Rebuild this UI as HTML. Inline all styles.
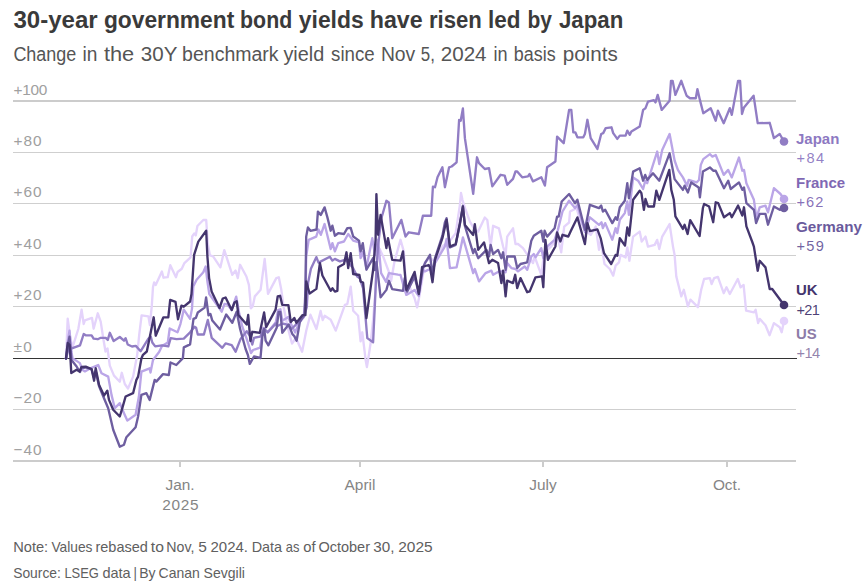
<!DOCTYPE html>
<html lang="en"><head><meta charset="utf-8"><title>30-year government bond yields have risen led by Japan</title>
<style>
html,body{margin:0;padding:0;background:#fff;}
body{width:867px;height:584px;overflow:hidden;font-family:"Liberation Sans",sans-serif;}
svg{display:block}
text{font-family:"Liberation Sans",sans-serif;}
.title{font-size:23px;font-weight:700;fill:#3a3a3a;}
.sub{font-size:20px;fill:#555555;}
.yl{font-size:15.4px;fill:#a0a0a0;}
.xl{font-size:15.4px;fill:#858585;text-anchor:middle;}
.note{font-size:14.2px;fill:#606060;}
.ln{font-size:14.4px;font-weight:700;}
.lv{font-size:14.6px;fill-opacity:0.94;}
.s{fill:none;stroke-width:2.35;stroke-linejoin:round;stroke-linecap:round;}
</style></head><body>
<svg width="867" height="584" viewBox="0 0 867 584">
<rect width="867" height="584" fill="#fff"/>
<text class="title" y="28.4"><tspan x="13.4" textLength="84.3" lengthAdjust="spacingAndGlyphs">30-year</tspan> <tspan x="103.9" textLength="130.4" lengthAdjust="spacingAndGlyphs">government</tspan> <tspan x="240.1" textLength="52.1" lengthAdjust="spacingAndGlyphs">bond</tspan> <tspan x="298.8" textLength="64.9" lengthAdjust="spacingAndGlyphs">yields</tspan> <tspan x="369.8" textLength="52.9" lengthAdjust="spacingAndGlyphs">have</tspan> <tspan x="428.9" textLength="52.9" lengthAdjust="spacingAndGlyphs">risen</tspan> <tspan x="488.0" textLength="32.5" lengthAdjust="spacingAndGlyphs">led</tspan> <tspan x="527.4" textLength="24.5" lengthAdjust="spacingAndGlyphs">by</tspan> <tspan x="559.0" textLength="64.3" lengthAdjust="spacingAndGlyphs">Japan</tspan></text>
<text class="sub" y="61"><tspan x="13.4" textLength="62.9" lengthAdjust="spacingAndGlyphs">Change</tspan> <tspan x="82.4" textLength="14.9" lengthAdjust="spacingAndGlyphs">in</tspan> <tspan x="103.9" textLength="30.3" lengthAdjust="spacingAndGlyphs">the</tspan> <tspan x="140.8" textLength="36.2" lengthAdjust="spacingAndGlyphs">30Y</tspan> <tspan x="182.1" textLength="96.5" lengthAdjust="spacingAndGlyphs">benchmark</tspan> <tspan x="283.4" textLength="40.8" lengthAdjust="spacingAndGlyphs">yield</tspan> <tspan x="331.1" textLength="43.6" lengthAdjust="spacingAndGlyphs">since</tspan> <tspan x="380.9" textLength="34.4" lengthAdjust="spacingAndGlyphs">Nov</tspan> <tspan x="420.8" textLength="14.1" lengthAdjust="spacingAndGlyphs">5,</tspan> <tspan x="440.7" textLength="45.9" lengthAdjust="spacingAndGlyphs">2024</tspan> <tspan x="493.5" textLength="14.1" lengthAdjust="spacingAndGlyphs">in</tspan> <tspan x="513.8" textLength="41.8" lengthAdjust="spacingAndGlyphs">basis</tspan> <tspan x="562.7" textLength="55.0" lengthAdjust="spacingAndGlyphs">points</tspan></text>

<g stroke="#cfcfcf" stroke-width="1" shape-rendering="crispEdges">
<rect x="13" y="100" width="783" height="2" fill="#cccccc" stroke="none"/>
<line x1="13" x2="796" y1="152.5" y2="152.5"/>
<line x1="13" x2="796" y1="203.5" y2="203.5"/>
<line x1="13" x2="796" y1="255.5" y2="255.5"/>
<line x1="13" x2="796" y1="306.5" y2="306.5"/>
<line x1="13" x2="796" y1="409.5" y2="409.5"/>
</g>
<rect x="13" y="460" width="783" height="2" fill="#cccccc" shape-rendering="crispEdges"/>
<rect x="179" y="461" width="2" height="6" fill="#cccccc" shape-rendering="crispEdges"/>
<rect x="359" y="461" width="2" height="6" fill="#cccccc" shape-rendering="crispEdges"/>
<rect x="542" y="461" width="2" height="6" fill="#cccccc" shape-rendering="crispEdges"/>
<rect x="726" y="461" width="2" height="6" fill="#cccccc" shape-rendering="crispEdges"/>
<text class="yl" x="13.5" y="94.8" textLength="33.8">+100</text>
<text class="yl" x="13.5" y="146.2" textLength="28">+80</text>
<text class="yl" x="13.5" y="197.3" textLength="28">+60</text>
<text class="yl" x="13.5" y="248.9" textLength="28">+40</text>
<text class="yl" x="13.5" y="300.3" textLength="28">+20</text>
<text class="yl" x="13.5" y="351.9" textLength="18.3">±0</text>
<text class="yl" x="13.5" y="403.2" textLength="28">−20</text>
<text class="yl" x="13.5" y="454.7" textLength="28">−40</text>
<rect x="13" y="358" width="784" height="1" fill="#333" shape-rendering="crispEdges"/>
<path class="s" stroke="#e4d3fb" d="M66.0,358.5 L67.7,318.7 L70.0,336.0 L72.5,347.4 L78.3,329.0 L81.6,309.6 L83.7,324.0 L84.9,320.4 L92.0,317.9 L93.6,328.7 L97.8,313.3 L100.7,321.6 L103.2,338.0 L105.5,351.5 L107.5,348.5 L109.8,365.6 L114.0,375.6 L119.8,381.7 L121.8,372.8 L124.8,384.0 L128.0,388.5 L133.1,376.6 L137.2,355.0 L139.2,334.8 L141.6,315.4 L148.4,316.3 L149.9,325.1 L151.8,305.7 L153.0,287.0 L154.1,282.4 L155.7,285.0 L161.9,271.5 L163.5,277.7 L167.7,277.2 L170.3,265.2 L176.0,277.2 L177.6,272.0 L181.8,268.8 L184.4,263.1 L190.6,257.4 L192.2,236.5 L194.3,233.4 L195.8,235.4 L197.4,226.0 L203.3,220.0 L206.2,220.0 L207.8,243.8 L209.9,255.3 L213.1,256.3 L220.4,267.3 L224.3,250.1 L232.3,274.8 L235.6,270.6 L237.8,278.1 L240.1,264.8 L246.4,276.5 L248.9,284.8 L250.3,300.0 L250.8,308.3 L252.7,306.5 L254.8,296.4 L260.6,289.8 L264.7,259.0 L268.0,293.9 L276.3,278.1 L278.8,277.3 L281.3,289.8 L283.8,308.0 L287.8,327.8 L292.0,343.5 L296.0,338.0 L302.1,351.8 L306.3,330.5 L310.4,314.7 L316.4,329.0 L320.6,311.0 L322.7,320.0 L324.7,315.8 L330.7,319.8 L335.7,330.6 L344.9,304.9 L347.3,304.1 L350.7,286.6 L353.2,310.7 L358.1,315.7 L360.6,341.4 L362.3,332.3 L365.6,359.7 L366.9,367.0 L368.1,359.7 L370.6,343.1 L373.1,319.8 L375.5,290.0 L377.0,262.0 L379.7,249.0 L383.1,256.4 L388.9,272.0 L391.1,281.0 L394.4,262.0 L400.5,239.8 L403.8,251.4 L406.3,290.0 L409.6,286.6 L414.6,298.2 L417.1,307.4 L419.6,294.9 L423.8,270.0 L425.0,262.0 L430.0,258.0 L435.0,261.5 L442.4,246.5 L449.9,240.7 L455.7,233.2 L459.9,205.0 L461.0,193.0 L462.5,200.0 L465.7,210.0 L469.9,221.6 L474.8,229.9 L478.2,231.6 L484.8,217.5 L487.3,220.0 L490.6,246.5 L493.1,225.8 L498.9,228.3 L503.1,246.5 L505.6,254.8 L507.2,236.6 L513.0,228.3 L515.5,244.0 L518.0,244.0 L523.0,248.2 L533.0,263.1 L534.6,256.5 L541.3,274.8 L543.3,260.0 L545.4,251.5 L551.0,246.5 L557.9,238.2 L561.2,252.3 L564.2,226.6 L569.1,222.5 L570.0,211.5 L576.6,208.1 L579.9,219.8 L584.9,230.0 L590.7,234.9 L595.7,226.6 L599.0,249.9 L600.7,240.0 L604.5,264.0 L609.8,269.0 L613.2,275.6 L615.6,265.7 L619.0,262.3 L620.6,254.9 L625.6,257.4 L627.3,247.4 L629.4,260.7 L633.1,236.6 L639.7,231.6 L641.7,241.6 L645.5,236.6 L648.0,246.6 L654.7,244.9 L657.2,239.9 L659.3,249.1 L662.2,236.6 L669.6,224.1 L673.0,246.6 L674.6,254.9 L676.3,276.5 L681.3,296.4 L683.8,289.8 L687.9,306.4 L690.4,299.7 L697.9,307.2 L701.2,289.8 L704.1,279.0 L709.9,278.2 L711.6,284.0 L714.1,278.2 L717.9,276.9 L723.7,293.2 L726.5,287.3 L729.8,294.0 L737.8,279.0 L740.6,287.3 L743.6,284.9 L746.1,310.6 L753.9,312.3 L755.6,309.8 L758.1,323.1 L759.7,318.9 L765.5,325.2 L769.6,335.2 L773.9,323.1 L779.7,327.2 L781.7,332.2 L784.0,321.0"/>
<path class="s" stroke="#baa5e7" d="M66.0,358.5 L68.0,340.0 L69.5,330.7 L71.5,352.0 L72.5,358.1 L79.9,363.1 L82.4,369.8 L84.9,371.4 L89.1,368.9 L98.2,365.0 L101.5,373.3 L108.2,376.6 L111.5,394.9 L114.8,408.2 L119.8,403.2 L124.0,413.2 L127.3,420.6 L135.6,414.8 L138.9,396.5 L141.4,371.6 L149.7,368.3 L150.5,372.5 L153.0,360.0 L159.1,352.0 L162.0,346.0 L167.8,342.5 L169.7,328.5 L177.5,332.3 L180.4,324.1 L183.8,309.6 L190.1,318.8 L192.0,308.6 L193.3,286.4 L196.6,279.8 L203.3,272.3 L205.7,266.5 L207.4,281.4 L209.3,294.0 L221.7,311.7 L224.5,303.9 L227.3,304.5 L231.7,310.0 L236.2,296.7 L239.0,312.2 L242.3,326.7 L246.7,338.9 L249.5,347.8 L251.0,353.0 L253.1,350.0 L260.1,347.6 L263.3,327.8 L267.5,332.4 L275.8,322.2 L278.1,310.2 L280.4,309.3 L282.3,320.8 L288.3,317.1 L290.6,323.1 L295.2,332.4 L298.9,323.1 L303.5,317.6 L305.5,300.0 L306.2,256.5 L308.7,239.9 L316.2,236.6 L318.5,229.5 L320.8,234.8 L324.6,224.0 L330.7,249.0 L332.4,243.1 L334.9,251.4 L338.2,243.1 L344.0,241.5 L348.2,234.0 L353.2,240.6 L359.0,242.3 L360.6,258.1 L362.8,252.0 L366.4,268.0 L372.3,238.2 L375.0,255.0 L378.1,239.8 L381.1,273.1 L386.1,281.9 L388.9,273.1 L398.0,274.7 L400.5,275.0 L403.8,286.6 L406.3,294.9 L414.6,290.0 L418.8,296.0 L422.9,270.0 L425.0,271.4 L430.0,269.0 L432.5,272.0 L435.0,263.1 L444.9,246.5 L446.6,239.0 L449.9,268.1 L456.6,267.3 L462.9,237.4 L473.2,273.1 L474.8,269.0 L479.0,281.4 L485.6,273.1 L491.4,270.6 L493.1,274.8 L498.9,271.4 L503.1,271.4 L505.6,272.3 L507.2,263.1 L511.4,268.1 L515.5,269.0 L518.0,271.4 L524.7,266.5 L527.2,269.8 L531.3,256.5 L533.8,254.0 L535.5,257.3 L541.3,248.2 L543.3,258.2 L545.4,248.2 L554.6,239.9 L557.9,229.9 L560.0,221.4 L562.5,211.5 L569.1,200.7 L575.0,208.1 L577.4,205.0 L584.9,232.0 L587.4,224.0 L589.9,217.3 L599.0,224.8 L601.5,222.3 L602.9,228.1 L605.2,223.1 L612.3,239.7 L615.6,228.1 L617.3,233.1 L619.8,219.8 L624.8,213.1 L627.3,201.5 L628.9,214.8 L633.1,177.4 L638.1,180.7 L643.1,189.0 L645.2,181.0 L647.2,183.2 L657.2,151.5 L659.3,164.1 L662.2,150.0 L669.6,134.0 L674.6,160.5 L677.9,169.9 L680.0,173.2 L682.9,177.4 L687.1,185.7 L688.7,179.9 L696.6,182.4 L699.0,180.0 L700.8,164.9 L703.3,159.1 L709.9,154.1 L712.4,156.6 L715.7,155.0 L723.7,174.9 L728.2,169.9 L731.8,177.4 L739.0,157.5 L742.3,170.7 L744.0,169.9 L746.4,183.2 L753.9,199.8 L756.4,218.1 L759.7,207.3 L765.5,205.6 L768.0,212.3 L773.9,188.2 L780.5,194.0 L784.0,199.0"/>
<path class="s" stroke="#917dc4" d="M66.0,358.5 L68.0,351.0 L70.0,347.0 L72.5,348.2 L80.0,345.3 L83.7,334.0 L85.7,335.3 L91.6,335.3 L93.6,338.6 L97.8,339.2 L100.7,337.8 L105.7,337.8 L107.8,339.9 L109.8,332.8 L113.6,341.1 L119.8,337.0 L124.0,340.7 L125.6,338.2 L127.7,344.5 L132.0,346.5 L135.8,345.9 L140.7,351.2 L148.4,338.6 L150.8,336.7 L152.3,342.5 L155.2,346.4 L162.0,345.4 L168.3,346.4 L170.7,338.2 L176.5,339.1 L183.8,338.6 L190.1,332.3 L194.5,326.7 L196.1,327.8 L197.8,334.5 L203.9,334.5 L207.8,320.0 L211.7,337.8 L222.3,347.8 L225.6,343.4 L231.7,345.1 L235.6,351.7 L240.6,338.9 L246.7,331.2 L250.0,336.0 L252.3,344.5 L254.0,337.8 L260.1,336.7 L264.0,328.9 L267.9,332.3 L276.0,323.4 L277.0,326.2 L282.5,323.5 L288.0,324.8 L291.5,329.0 L295.7,324.8 L299.8,320.7 L304.0,316.5 L306.8,306.8 L308.1,282.7 L310.9,268.8 L316.4,257.1 L318.5,262.6 L329.9,256.8 L332.4,260.6 L334.9,258.9 L339.9,261.4 L344.9,259.8 L348.0,262.0 L353.0,268.0 L357.3,276.6 L359.8,278.3 L363.1,288.3 L365.6,318.2 L367.3,338.1 L373.1,342.3 L374.8,306.5 L376.4,270.0 L378.1,245.0 L381.4,218.2 L386.4,200.8 L388.9,202.4 L392.2,238.2 L401.3,219.9 L405.5,236.5 L408.8,232.3 L418.8,234.0 L422.9,215.7 L431.2,215.7 L432.9,186.7 L435.0,187.2 L437.5,177.3 L442.4,167.3 L444.9,187.2 L449.1,167.3 L451.6,166.5 L456.6,162.3 L459.1,120.0 L460.7,120.8 L462.9,108.5 L464.9,138.2 L473.2,193.9 L477.0,157.3 L479.0,163.2 L484.8,169.0 L489.0,168.1 L492.3,186.4 L500.6,174.8 L504.7,175.6 L507.2,184.8 L513.0,178.9 L515.5,171.5 L517.2,171.5 L522.2,177.3 L528.0,176.4 L529.5,174.0 L533.0,181.4 L541.3,177.3 L544.9,185.6 L547.1,167.3 L555.4,161.5 L557.1,136.6 L563.7,143.2 L569.1,109.9 L571.3,109.9 L573.3,132.3 L575.3,132.3 L577.4,137.3 L583.3,137.3 L584.9,134.0 L587.4,119.8 L590.7,138.1 L597.4,148.9 L601.2,134.0 L603.2,133.1 L605.7,128.1 L611.5,127.3 L613.2,133.1 L617.3,138.9 L619.8,135.6 L625.6,135.6 L627.3,130.6 L629.8,134.8 L631.4,131.5 L639.7,126.5 L643.1,109.9 L645.5,108.2 L648.0,101.6 L653.9,100.2 L655.5,102.4 L657.7,94.9 L661.7,109.9 L669.6,100.7 L671.0,80.8 L672.6,80.8 L675.4,94.9 L681.3,80.8 L683.3,86.6 L686.6,95.7 L690.0,98.2 L695.8,98.2 L697.4,89.1 L699.9,99.9 L703.3,113.2 L710.7,108.2 L715.7,120.7 L717.9,110.7 L723.7,123.2 L729.8,108.2 L731.8,114.9 L738.1,80.8 L740.1,80.8 L742.0,114.0 L744.0,107.4 L753.6,95.7 L757.7,123.2 L769.7,122.8 L773.9,138.1 L779.7,134.0 L784.0,141.5"/>
<path class="s" stroke="#6e5ea0" d="M66.0,358.5 L68.0,345.0 L69.5,336.6 L71.5,360.0 L76.6,366.5 L80.0,372.0 L81.6,368.0 L85.7,367.5 L91.6,369.5 L94.1,378.0 L95.7,371.0 L99.0,386.0 L104.0,398.2 L108.2,408.2 L113.2,429.8 L119.8,446.7 L124.0,444.7 L126.4,437.2 L135.6,427.3 L138.1,416.5 L141.4,394.9 L146.4,393.2 L149.7,399.9 L154.7,379.9 L156.3,381.6 L163.0,374.1 L168.8,375.0 L170.5,362.5 L176.3,365.0 L182.9,358.1 L183.8,347.4 L190.1,344.4 L192.0,329.9 L193.5,318.8 L195.9,317.8 L197.8,312.5 L204.6,307.6 L206.1,297.5 L208.5,315.4 L210.4,313.9 L212.3,320.6 L220.0,329.5 L226.2,314.5 L232.3,322.8 L236.7,311.7 L240.1,328.9 L245.6,349.0 L247.9,355.0 L249.8,363.9 L254.0,356.5 L260.5,358.0 L262.4,336.1 L264.2,328.7 L265.6,340.7 L268.4,345.3 L276.7,327.8 L278.6,312.0 L280.4,312.0 L282.3,332.8 L288.7,324.5 L292.4,334.2 L294.3,336.1 L296.6,340.7 L299.8,322.2 L304.5,313.9 L305.4,290.0 L306.2,236.6 L307.9,227.5 L310.4,230.8 L316.6,229.5 L317.9,211.6 L320.8,214.9 L324.6,207.4 L327.4,217.4 L330.7,230.7 L332.4,225.7 L334.9,235.7 L338.2,233.2 L344.0,234.0 L347.3,228.2 L350.7,227.9 L353.2,236.5 L359.0,240.6 L360.6,251.4 L362.8,243.1 L366.4,269.7 L373.1,258.1 L375.0,270.0 L376.4,262.0 L378.0,275.0 L380.6,297.4 L386.4,289.9 L388.9,280.8 L392.2,289.1 L403.0,290.8 L404.7,278.3 L407.1,291.6 L414.6,276.6 L418.8,293.3 L422.9,268.0 L425.0,263.1 L430.0,254.8 L432.5,274.8 L435.0,258.2 L442.4,235.7 L444.9,222.4 L446.6,218.3 L449.9,247.3 L455.7,244.8 L459.9,224.0 L462.9,205.8 L464.9,226.0 L473.2,253.2 L474.8,249.0 L478.2,258.2 L486.5,249.9 L489.0,256.5 L490.6,244.9 L493.1,254.0 L498.1,249.9 L501.4,258.2 L503.1,252.3 L505.6,269.8 L507.2,256.5 L514.7,256.5 L517.2,268.1 L520.5,264.0 L527.2,262.3 L531.3,240.7 L533.8,235.7 L541.3,230.7 L543.3,241.5 L544.6,230.7 L547.1,236.6 L554.6,228.3 L557.1,216.6 L558.7,216.6 L561.7,201.5 L569.1,194.0 L575.0,203.2 L577.4,199.8 L584.9,229.7 L589.9,204.8 L599.0,208.1 L601.2,205.6 L602.9,211.5 L605.2,209.8 L612.3,223.1 L615.6,217.3 L617.3,219.8 L619.8,207.3 L624.8,200.7 L627.3,183.2 L628.9,198.2 L633.1,171.6 L639.7,168.3 L643.1,180.7 L645.2,174.9 L647.2,179.9 L653.0,173.3 L659.3,180.7 L669.6,153.3 L674.6,179.1 L682.9,189.9 L684.6,185.7 L687.9,192.4 L691.2,182.4 L698.7,187.4 L699.9,197.3 L702.9,171.6 L709.9,167.4 L713.2,170.7 L715.7,170.7 L724.0,188.2 L728.2,180.7 L730.7,189.0 L739.0,182.4 L742.3,189.9 L744.0,187.4 L746.4,203.1 L753.9,209.8 L756.1,223.1 L759.7,213.9 L765.5,213.9 L768.0,224.7 L773.9,206.5 L779.7,209.8 L784.0,208.0"/>
<path class="s" stroke="#44356e" d="M66.0,358.5 L67.7,343.0 L69.7,345.0 L71.3,373.1 L76.6,369.8 L79.5,371.5 L81.6,366.8 L85.7,366.6 L91.6,369.0 L94.1,380.7 L95.7,368.2 L99.0,384.8 L104.0,395.6 L107.3,390.7 L109.0,399.9 L113.2,409.8 L119.8,416.5 L122.3,408.2 L125.6,396.5 L133.1,393.2 L136.4,379.9 L138.1,376.6 L141.4,358.5 L143.0,354.8 L146.8,351.5 L150.8,331.9 L153.7,317.3 L155.7,335.7 L163.4,317.3 L168.3,317.3 L170.2,299.9 L175.5,301.8 L178.0,319.3 L181.4,305.7 L183.8,306.7 L190.1,301.5 L191.5,294.0 L194.1,254.9 L198.3,241.6 L206.2,230.8 L207.4,256.5 L209.1,278.1 L211.6,291.4 L219.5,308.0 L222.8,298.5 L225.6,297.5 L231.7,310.0 L234.5,302.5 L236.7,301.2 L238.4,315.0 L246.7,324.5 L248.2,315.0 L250.4,341.0 L252.3,331.8 L259.8,332.8 L264.1,312.4 L266.1,327.2 L275.6,309.6 L277.7,296.5 L280.1,295.8 L282.2,304.8 L288.4,305.1 L290.8,322.1 L294.3,317.9 L296.4,322.8 L302.6,315.1 L305.4,315.1 L306.2,281.4 L309.6,293.5 L316.4,288.9 L319.9,263.1 L322.4,275.5 L330.7,290.8 L332.4,288.3 L334.9,291.6 L337.4,290.8 L338.2,267.2 L344.0,263.9 L346.5,252.3 L348.2,268.1 L350.7,253.1 L353.2,274.0 L359.4,275.0 L360.6,281.6 L363.1,282.5 L366.4,318.2 L371.4,282.0 L373.1,270.0 L375.6,239.8 L376.4,194.1 L378.1,234.8 L380.6,214.9 L386.4,248.1 L388.0,238.2 L392.2,259.8 L400.5,260.6 L403.0,251.4 L406.3,289.9 L414.6,271.9 L418.8,294.1 L422.1,267.0 L428.7,265.0 L430.0,267.3 L432.5,282.2 L435.0,259.8 L442.4,238.2 L446.6,220.0 L449.9,246.5 L455.7,244.0 L459.9,223.3 L462.9,206.7 L464.9,224.9 L473.2,234.9 L474.8,224.1 L478.2,249.9 L484.0,242.4 L489.0,263.1 L492.3,259.8 L498.1,263.1 L501.4,283.1 L503.1,270.6 L505.6,296.4 L507.2,280.6 L513.0,283.1 L515.2,274.8 L517.2,288.1 L520.5,278.1 L527.2,292.2 L529.7,291.4 L535.5,277.3 L542.1,276.4 L543.3,287.2 L545.4,239.9 L547.9,259.8 L555.4,246.5 L557.1,232.4 L560.4,241.5 L562.5,234.8 L568.3,236.5 L570.8,231.1 L577.4,217.4 L584.9,244.0 L587.4,223.2 L589.9,231.1 L597.4,229.4 L600.7,238.3 L604.0,253.2 L611.2,264.0 L615.6,254.9 L617.3,255.7 L619.8,238.2 L625.0,245.6 L627.3,227.4 L629.2,235.6 L633.1,199.8 L639.7,190.7 L641.4,193.2 L643.9,209.8 L645.5,199.0 L648.0,206.5 L653.9,206.5 L656.3,190.7 L659.3,199.8 L669.3,169.9 L671.3,189.9 L673.8,199.8 L675.4,216.4 L682.9,228.9 L684.6,224.8 L687.6,234.0 L690.2,220.2 L699.6,236.0 L702.9,208.0 L704.1,204.0 L709.1,206.5 L713.2,222.2 L715.7,202.3 L718.2,203.1 L724.0,217.3 L729.8,213.1 L731.8,217.3 L738.1,205.6 L742.3,215.6 L744.0,207.3 L746.4,226.4 L752.3,242.0 L753.9,246.6 L757.7,270.7 L759.7,260.8 L765.5,267.4 L769.7,289.0 L772.2,289.0 L784.0,305.0"/>
<circle cx="784" cy="321" r="4.3" fill="#e4d3fb"/>
<circle cx="784" cy="199" r="4.3" fill="#baa5e7"/>
<circle cx="784" cy="141.5" r="4.3" fill="#917dc4"/>
<circle cx="784" cy="208" r="4.3" fill="#6e5ea0"/>
<circle cx="784" cy="305" r="4.3" fill="#44356e"/>
<text class="ln" x="796" y="143.7" fill="#8d79c2" textLength="43.3" lengthAdjust="spacingAndGlyphs">Japan</text>
<text class="lv" x="796.5" y="162.6" fill="#8d79c2" textLength="27.5">+84</text>
<text class="ln" x="796" y="187.5" fill="#7f68b4" textLength="49.2" lengthAdjust="spacingAndGlyphs">France</text>
<text class="lv" x="796.5" y="206.7" fill="#7f68b4" textLength="26.8">+62</text>
<text class="ln" x="796" y="231.6" fill="#6a5a9c" textLength="65.9" lengthAdjust="spacingAndGlyphs">Germany</text>
<text class="lv" x="796.5" y="250.6" fill="#6a5a9c" textLength="27.4">+59</text>
<text class="ln" x="796" y="295.2" fill="#44356e" textLength="21.6" lengthAdjust="spacingAndGlyphs">UK</text>
<text class="lv" x="796.5" y="314.6" fill="#44356e" textLength="23.4">+21</text>
<text class="ln" x="796" y="339.1" fill="#8d7ca8" textLength="20.7" lengthAdjust="spacingAndGlyphs">US</text>
<text class="lv" x="796.5" y="358.2" fill="#8d7ca8" textLength="23.6">+14</text>
<text class="xl" x="180" y="490">Jan.</text><text class="xl" x="180.4" y="510" textLength="36.5">2025</text>
<text class="xl" x="360" y="490">April</text><text class="xl" x="543" y="490">July</text><text class="xl" x="727" y="490">Oct.</text>
<text class="note" y="552"><tspan x="13.2" textLength="35.0" lengthAdjust="spacingAndGlyphs">Note:</tspan> <tspan x="51.4" textLength="41.1" lengthAdjust="spacingAndGlyphs">Values</tspan> <tspan x="95.4" textLength="52.5" lengthAdjust="spacingAndGlyphs">rebased</tspan> <tspan x="150.8" textLength="13.1" lengthAdjust="spacingAndGlyphs">to</tspan> <tspan x="166.3" textLength="28.1" lengthAdjust="spacingAndGlyphs">Nov,</tspan> <tspan x="198.2" textLength="8.6" lengthAdjust="spacingAndGlyphs">5</tspan> <tspan x="210.5" textLength="37.5" lengthAdjust="spacingAndGlyphs">2024.</tspan> <tspan x="251.7" textLength="30.4" lengthAdjust="spacingAndGlyphs">Data</tspan> <tspan x="285.8" textLength="13.6" lengthAdjust="spacingAndGlyphs">as</tspan> <tspan x="303.2" textLength="12.3" lengthAdjust="spacingAndGlyphs">of</tspan> <tspan x="318.4" textLength="51.6" lengthAdjust="spacingAndGlyphs">October</tspan> <tspan x="373.2" textLength="21.2" lengthAdjust="spacingAndGlyphs">30,</tspan> <tspan x="398.2" textLength="34.4" lengthAdjust="spacingAndGlyphs">2025</tspan></text>
<text class="note" y="577.5"><tspan x="13.2" textLength="47.7" lengthAdjust="spacingAndGlyphs">Source:</tspan> <tspan x="64.4" textLength="34.5" lengthAdjust="spacingAndGlyphs">LSEG</tspan> <tspan x="102.4" textLength="28.3" lengthAdjust="spacingAndGlyphs">data</tspan> <tspan x="133.6" textLength="3.4" lengthAdjust="spacingAndGlyphs">|</tspan> <tspan x="139.2" textLength="16.4" lengthAdjust="spacingAndGlyphs">By</tspan> <tspan x="158.6" textLength="41.3" lengthAdjust="spacingAndGlyphs">Canan</tspan> <tspan x="203.6" textLength="41.3" lengthAdjust="spacingAndGlyphs">Sevgili</tspan></text>
</svg></body></html>
